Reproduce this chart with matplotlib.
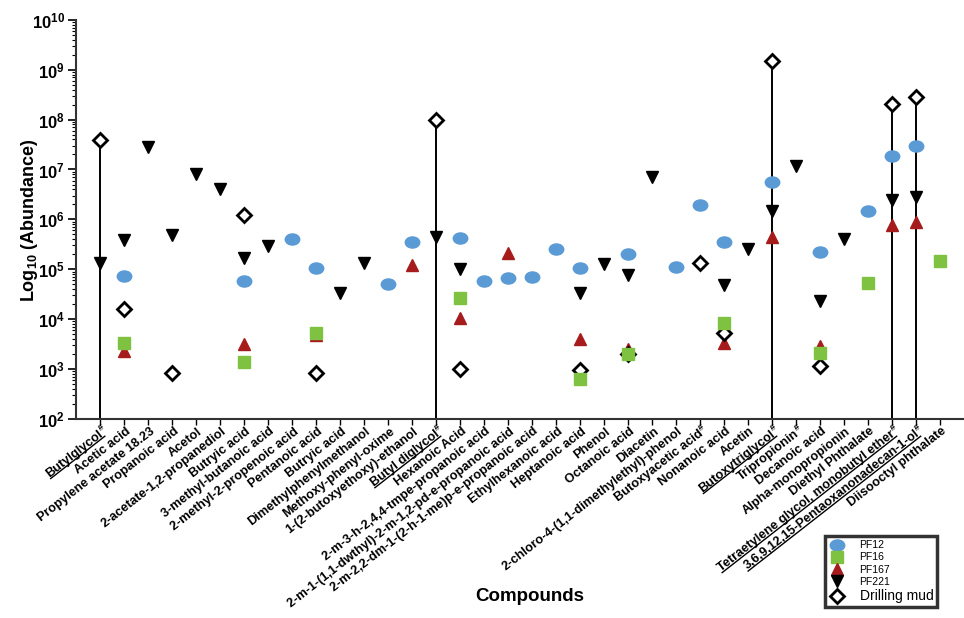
import numpy as np
import matplotlib
matplotlib.use('Agg')
import matplotlib.pyplot as plt
from matplotlib.lines import Line2D
from matplotlib.markers import MarkerStyle
from matplotlib.transforms import Affine2D
from matplotlib.ticker import LogLocator, FixedLocator, NullFormatter

plt.rcParams['font.family'] = ['Liberation Sans', 'DejaVu Sans']
plt.rcParams['mathtext.fontset'] = 'custom'
plt.rcParams['mathtext.rm'] = 'Liberation Sans:bold'
plt.rcParams['mathtext.it'] = 'Liberation Sans:bold:italic'
plt.rcParams['mathtext.bf'] = 'Liberation Sans:bold'

nan = np.nan

# compound names (name, has # mark, underlined)
compounds = [
    ("Butylglycol", True, True),
    ("Acetic acid", False, False),
    ("Propylene acetate 18.23", False, False),
    ("Propanoic acid", False, False),
    ("Acetol", False, False),
    ("2-acetate-1,2-propanediol", False, False),
    ("Butryic acid", False, False),
    ("3-methyl-butanoic acid", False, False),
    ("2-methyl-2-propenoic acid", False, False),
    ("Pentanoic acid", False, False),
    ("Butryic acid", False, False),
    ("Dimethylphenylmethanol", False, False),
    ("Methoxy-phenyl-oxime", False, False),
    ("1-(2-butoxyethoxy)-ethanol", False, False),
    ("Butyl diglycol", True, True),
    ("Hexanoic Acid", False, False),
    ("2-m-3-h-2,4,4-tmpe-propanoic acid", False, False),
    ("2-m-1-(1,1-dwthyl)-2-m-1,2-pd-e-propanoic acid", False, False),
    ("2-m-2,2-dm-1-(2-h-1-me)p-e-propanoic acid", False, False),
    ("Ethylhexanoic acid", False, False),
    ("Heptanoic acid", False, False),
    ("Phenol", False, False),
    ("Octanoic acid", False, False),
    ("Diacetin", False, False),
    ("2-chloro-4-(1,1-dimethylethyl)-phenol", False, False),
    ("Butoxyacetic acid", True, False),
    ("Nonanoic acid", False, False),
    ("Acetin", False, False),
    ("Butoxytriglycol", True, True),
    ("Tripropionin", True, False),
    ("Decanoic acid", False, False),
    ("Alpha-monopropionin", False, False),
    ("Diethyl Phthalate", False, False),
    ("Tetraetylene glycol, monobutyl ether", True, True),
    ("3,6,9,12,15-Pentaoxanonadecan-1-ol", True, True),
    ("Diisooctyl phthalate", False, False),
]

pf12 = [nan, 7.2e4, nan, nan, nan, nan, 5.8e4, nan, 4.0e5, 1.08e5,
        nan, nan, 5.0e4, 3.5e5, nan, 4.3e5, 5.7e4, 6.8e4, 7.0e4, 2.6e5,
        1.06e5, nan, 2.0e5, nan, 1.1e5, 1.94e6, 3.6e5, nan, 5.7e6, nan,
        2.25e5, nan, 1.49e6, 1.85e7, 3.0e7, nan]
pf16 = [nan, 3.4e3, nan, nan, nan, nan, 1.4e3, nan, nan, 5.4e3,
        nan, nan, nan, nan, nan, 2.7e4, nan, nan, nan, nan,
        630, nan, 2.0e3, nan, nan, nan, 8.3e3, nan, nan, nan,
        2.1e3, nan, 5.2e4, nan, nan, 1.5e5]
pf167 = [nan, 2.3e3, nan, nan, nan, nan, 3.2e3, nan, nan, 4.8e3,
         nan, nan, nan, 1.2e5, nan, 1.08e4, nan, 2.15e5, nan, nan,
         4.1e3, nan, 2.5e3, nan, nan, nan, 3.3e3, nan, 4.4e5, nan,
         2.9e3, nan, nan, 7.7e5, 8.9e5, nan]
pf221 = [1.36e5, 3.9e5, 2.8e7, 4.8e5, 8.1e6, 4.1e6, 1.7e5, 2.9e5, nan, nan,
         3.4e4, 1.36e5, nan, nan, 4.5e5, 1.03e5, nan, nan, nan, nan,
         3.3e4, 1.3e5, 7.6e4, 7.2e6, nan, nan, 4.8e4, 2.6e5, 1.47e6, 1.17e7,
         2.3e4, 4.1e5, nan, 2.4e6, 2.8e6, nan]
mud = [3.9e7, 1.6e4, nan, 830, nan, nan, 1.22e6, nan, nan, 830,
       nan, nan, nan, nan, 9.7e7, 1.0e3, nan, nan, nan, nan,
       955, nan, 2.0e3, nan, nan, 1.36e5, 5.4e3, nan, 1.5e9, nan,
       1.17e3, nan, nan, 2.06e8, 2.9e8, nan]

BLUE = '#5b9bd5'
GREEN = '#7fc241'
RED = '#a61c1c'
ROT = 38
FS = 9.2

x = np.arange(len(compounds))
ellipse = MarkerStyle('o', transform=Affine2D().scale(1.3, 1.0))

fig = plt.figure(figsize=(9.64, 6.18), dpi=100)
ax = fig.add_axes([0.079, 0.322, 0.921, 0.646])

# vertical lines for the marked compounds
mud_arr = np.array(mud)
stem_idx = [i for i, c in enumerate(compounds) if c[2]]
ax.vlines(x[stem_idx], 1e2, mud_arr[stem_idx], color='black', lw=1.4, zorder=1)

ax.plot(x, pf12, ls='none', marker=ellipse, ms=8, color=BLUE, zorder=3)
ax.plot(x, pf167, ls='none', marker='^', ms=8, color=RED, zorder=3)
ax.plot(x, pf221, ls='none', marker='v', ms=8, color='black', zorder=3)
ax.plot(x, mud, ls='none', marker='D', ms=7.5, mfc='white', mec='black', mew=2, zorder=4)
ax.plot(x, pf16, ls='none', marker='s', ms=8, color=GREEN, zorder=5)

ax.set_yscale('log')
ax.set_ylim(1e2, 1e10)
ax.set_xlim(-1, 36)
ax.yaxis.set_major_locator(FixedLocator([10.0 ** k for k in range(2, 11)]))
ax.set_yticklabels([r'$10^{%d}$' % k for k in range(2, 11)], fontsize=12)
ax.yaxis.set_minor_locator(LogLocator(base=10, subs=np.arange(2, 10)))
ax.yaxis.set_minor_formatter(NullFormatter())

ax.set_xticks(x)
ax.set_xticklabels([])

for s in ['top', 'right']:
    ax.spines[s].set_visible(False)
for s in ['left', 'bottom']:
    ax.spines[s].set_linewidth(1.5)
    ax.spines[s].set_color('#333333')
ax.tick_params(axis='x', length=4, width=1)
ax.tick_params(axis='y', which='major', length=6, width=1.2, pad=2)
ax.tick_params(axis='y', which='minor', length=3, width=0.8)

fig.text(0.031, 0.644, r'Log$_{10}$ (Abundance)', rotation=90, ha='center', va='center',
         fontsize=13, fontweight='bold')
fig.text(0.55, 0.034, 'Compounds', ha='center', va='center', fontsize=13.5, fontweight='bold')

# legend
handles = [
    Line2D([], [], ls='none', marker=ellipse, ms=8, color=BLUE),
    Line2D([], [], ls='none', marker='s', ms=8, color=GREEN),
    Line2D([], [], ls='none', marker='^', ms=8, color=RED),
    Line2D([], [], ls='none', marker='v', ms=8, color='black'),
    Line2D([], [], ls='none', marker='D', ms=7, mfc='white', mec='black', mew=2),
]
leg = ax.legend(handles, ['PF12', 'PF16', 'PF167', 'PF221', 'Drilling mud'],
                loc='lower left', bbox_to_anchor=(0.856, 0.018), bbox_transform=fig.transFigure,
                fontsize=7.5, frameon=True, fancybox=False, borderaxespad=0,
                handletextpad=1.4, labelspacing=0.2, borderpad=0.4, handlelength=1.5)
leg.get_frame().set_edgecolor('black')
leg.get_frame().set_linewidth(2.5)
leg.get_texts()[-1].set_fontsize(10)

# compound labels drawn by hand so the underlines and # marks line up
fig.canvas.draw()
renderer = fig.canvas.get_renderer()
th = np.deg2rad(ROT)
cs, sn = np.cos(th), np.sin(th)
px_per_pt = fig.dpi / 72.0
em = FS * px_per_pt
asc = 0.74 * em
to_fig = fig.transFigure.inverted()


def text_width(s, size):
    t = fig.text(0, 0, s, fontsize=size, fontweight='bold')
    w = t.get_window_extent(renderer).width
    t.remove()
    return w


def local(b, lx, ly):
    return np.array([b[0] + lx * cs - ly * sn, b[1] + lx * sn + ly * cs])


axis_y = ax.transAxes.transform((0, 0))[1]
HASH_FS = FS * 0.7
w_hash = text_width('#', HASH_FS) * 0.8
for i, (name, mark, under) in enumerate(compounds):
    tx = ax.transData.transform((x[i], 1e2))[0]
    top_right = np.array([tx + 1, axis_y - 6])
    base = local(top_right, 0, -asc)
    shift = -w_hash if mark else 0
    p = to_fig.transform(local(base, shift, 0))
    fig.text(p[0], p[1], name, fontsize=FS, fontweight='bold', rotation=ROT,
             rotation_mode='anchor', ha='right', va='baseline')
    if mark:
        q = to_fig.transform(local(base, 1, 0.42 * em))
        fig.text(q[0], q[1], '#', fontsize=HASH_FS, fontweight='bold', rotation=ROT,
                 rotation_mode='anchor', ha='right', va='baseline')
    if under:
        wn = text_width(name, FS)
        a = local(base, shift - wn, -0.13 * em)
        b = local(base, shift, -0.13 * em)
        pts = to_fig.transform(np.vstack([a, b]))
        fig.add_artist(Line2D(pts[:, 0], pts[:, 1], color='black', lw=1.0,
                              transform=fig.transFigure))

fig.savefig('out.png', dpi=100)
